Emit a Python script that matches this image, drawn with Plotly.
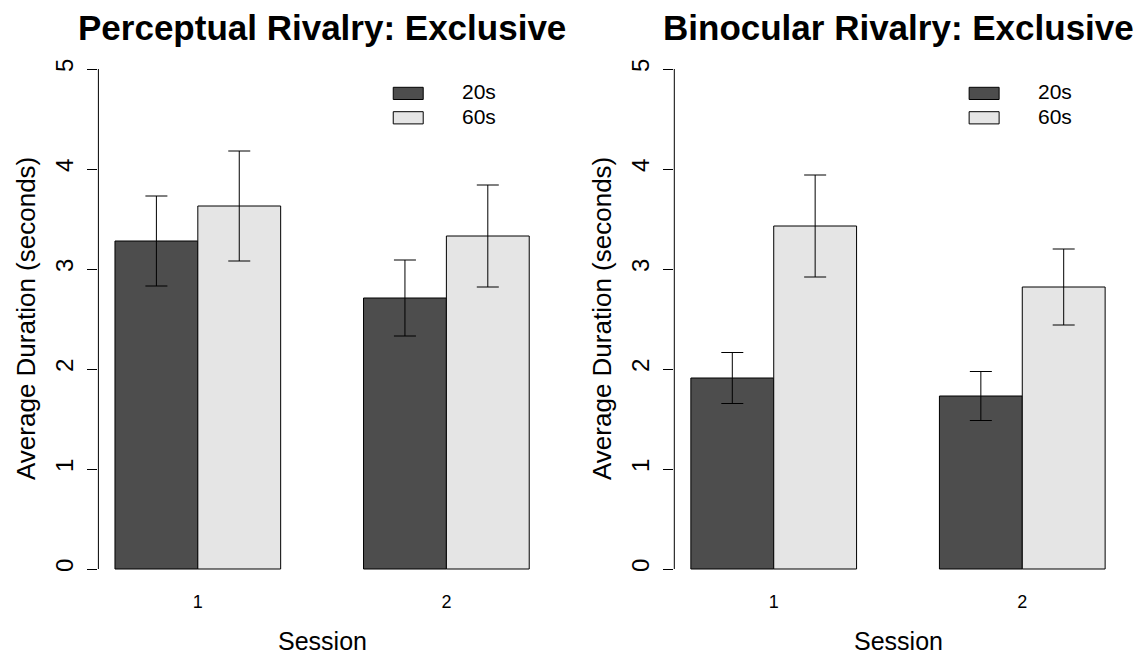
import plotly.graph_objects as go

# Session labels and exposure-duration groups
sessions = ["1", "2"]
groups = ["20s", "60s"]

# Perceptual rivalry: mean exclusive durations (s) and error half-widths
perc_20s = [3.28, 2.71]
perc_20s_err = [0.45, 0.38]
perc_60s = [3.63, 3.33]
perc_60s_err = [0.55, 0.51]

# Binocular rivalry: mean exclusive durations (s) and error half-widths
bino_20s = [1.91, 1.73]
bino_20s_err = [0.255, 0.245]
bino_60s = [3.43, 2.82]
bino_60s_err = [0.51, 0.38]

y_ticks = [0, 1, 2, 3, 4, 5]

panels = [
    ("Perceptual Rivalry: Exclusive", [perc_20s, perc_60s], [perc_20s_err, perc_60s_err]),
    ("Binocular Rivalry: Exclusive", [bino_20s, bino_60s], [bino_20s_err, bino_60s_err]),
]

colors = ["#4d4d4d", "#e5e5e5"]
FONT = "Liberation Sans, Arial, Helvetica, sans-serif"
W, H = 1140, 654
TOP, BOT = 49, 65
domains = [[98.4 / W, 545.8 / W], [674.3 / W, 1121.7 / W]]


def paper_y(py):
    """Convert a pixel row (from the top) to paper coordinates."""
    return (H - BOT - py) / (H - TOP - BOT)


fig = go.Figure()
annotations = []
shapes = []

for i, (title, means, errs) in enumerate(panels):
    xa = "x" if i == 0 else "x2"
    ya = "y" if i == 0 else "y2"
    for g, name in enumerate(groups):
        fig.add_trace(go.Bar(
            x=sessions, y=means[g], name=name,
            xaxis=xa, yaxis=ya,
            marker=dict(color=colors[g], line=dict(color="black", width=1)),
            error_y=dict(type="data", array=errs[g], visible=True,
                         color="black", thickness=1, width=11),
            offsetgroup=str(g), showlegend=False,
        ))

    # panel title
    annotations.append(dict(
        text="<b>%s</b>" % title, xref=xa + " domain", x=0.5,
        yref="paper", y=paper_y(28), xanchor="center", yanchor="middle",
        showarrow=False, font=dict(family=FONT, size=35, color="black")))
    # axis titles
    annotations.append(dict(
        text="Session", xref=xa + " domain", x=0.5,
        yref="paper", y=paper_y(641), xanchor="center", yanchor="middle",
        showarrow=False, font=dict(family=FONT, size=25, color="black")))
    annotations.append(dict(
        text="Average Duration (seconds)", textangle=-90,
        xref="paper", x=(26 + 576 * i) / W, xanchor="center",
        yref=ya, y=2.5, yanchor="middle",
        showarrow=False, font=dict(family=FONT, size=26, color="black")))

    # y axis line spanning the tick range only
    shapes.append(dict(type="line", xref=xa + " domain", yref=ya,
                       x0=0, x1=0, y0=y_ticks[0], y1=y_ticks[-1],
                       line=dict(color="black", width=1)))

    # legend keys
    for g, name in enumerate(groups):
        top = 4.817 - g * 0.244
        shapes.append(dict(type="rect", xref=xa + " domain", yref=ya,
                           x0=0.659, x1=0.726, y0=top - 0.122, y1=top,
                           fillcolor=colors[g], line=dict(color="black", width=1)))
        annotations.append(dict(
            text=name, xref=xa + " domain", x=0.808, xanchor="left",
            yref=ya, y=top - 0.045, yanchor="middle", showarrow=False,
            font=dict(family=FONT, size=21, color="black")))

axis_common_x = dict(
    type="category", range=[-0.4, 1.4], showline=False, showgrid=False,
    zeroline=False, ticks="", tickfont=dict(family=FONT, size=18, color="black"),
    ticklabelstandoff=0,
)
axis_common_y = dict(
    range=[-0.2, 5.2], showline=False, showgrid=False, zeroline=False,
    tickvals=y_ticks, ticktext=[str(v) for v in y_ticks],
    ticks="outside", ticklen=10, tickwidth=1, tickcolor="black",
    tickangle=-90, tickfont=dict(family=FONT, size=24, color="black"),
    ticklabelstandoff=5,
)

fig.update_layout(
    width=W, height=H,
    margin=dict(l=0, r=0, t=TOP, b=BOT),
    paper_bgcolor="white", plot_bgcolor="white",
    barmode="group", bargap=1 / 3, bargroupgap=0,
    xaxis=dict(domain=domains[0], anchor="y", **axis_common_x),
    xaxis2=dict(domain=domains[1], anchor="y2", **axis_common_x),
    yaxis=dict(anchor="x", **axis_common_y),
    yaxis2=dict(anchor="x2", **axis_common_y),
    annotations=annotations, shapes=shapes,
    font=dict(family=FONT, color="black"),
)

fig.write_html("out.html")
